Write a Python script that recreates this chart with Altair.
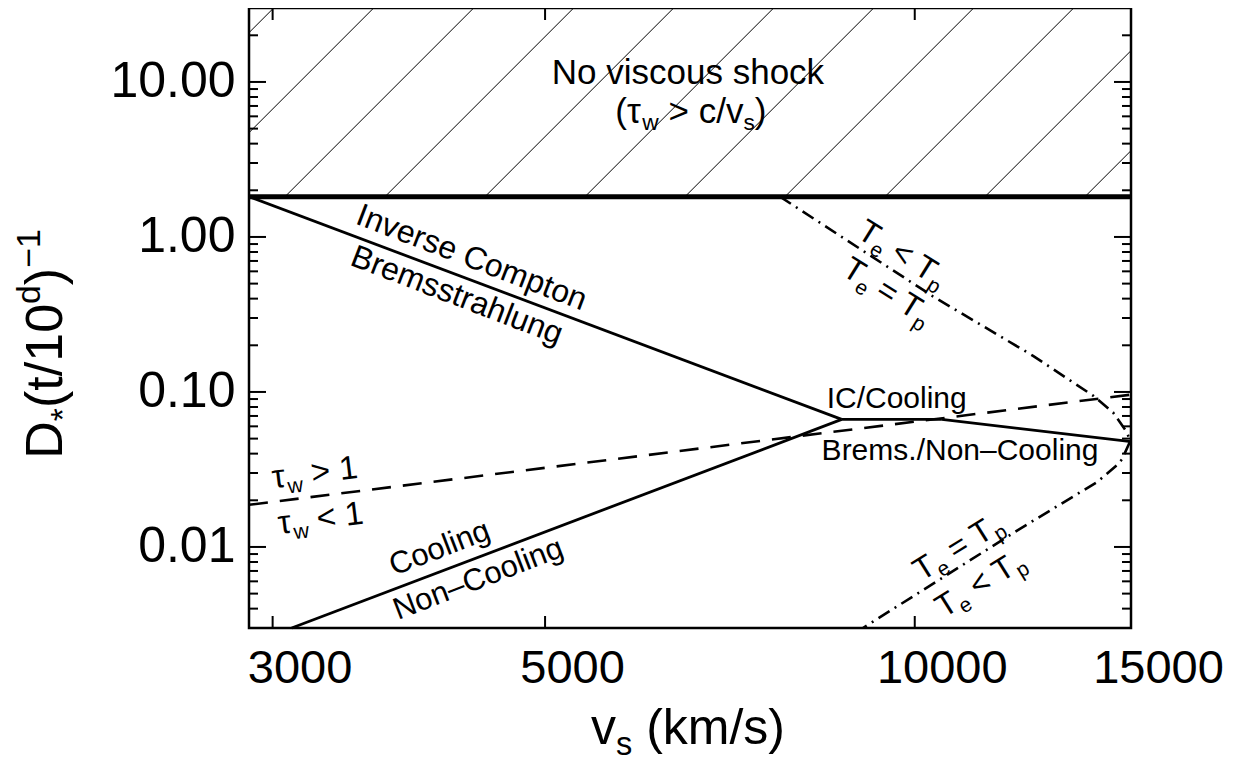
import math
import altair as alt
import pandas as pd

# ---------------- data ----------------
x_tick_values = [3000, 5000, 10000, 15000]
y_tick_values = [0.01, 0.1, 1.0, 10.0]
x_domain = [2870, 15000]
y_domain = [0.003, 30]

viscous_limit = [1.82]          # above this D*: no viscous shock

ic_brems_v = [2870, 8720]
ic_brems_d = [1.82, 0.0665]
ic_cool_v = [8720, 10520]
ic_cool_d = [0.0665, 0.0665]
brems_nc_v = [10520, 15000]
brems_nc_d = [0.0665, 0.0478]
cool_nc_v = [3109, 8720]
cool_nc_d = [0.003, 0.0665]

tau_v = [2870, 15000]
tau_d = [0.0187, 0.0961]

te_tp_v = [7767, 10346, 12484, 13970, 14504, 14890, 14975, 14750, 14610, 14075, 12180, 9075]
te_tp_d = [1.82, 0.414, 0.171, 0.0947, 0.0737, 0.0548, 0.048, 0.0368, 0.0337, 0.0262, 0.0131, 0.003]

# ---------------- layout constants ----------------
W, H = 882, 620
FONT = "Liberation Sans"
lx0, lx1 = math.log10(x_domain[0]), math.log10(x_domain[1])
ly0, ly1 = math.log10(y_domain[0]), math.log10(y_domain[1])


def to_px(v, d):
    return ((math.log10(v) - lx0) / (lx1 - lx0) * W,
            (ly1 - math.log10(d)) / (ly1 - ly0) * H)


def to_data(px, py):
    return (10 ** (lx0 + px / W * (lx1 - lx0)),
            10 ** (ly1 - py / H * (ly1 - ly0)))


CW = {' ': 0.278, '(': 0.333, ')': 0.333, 'τ': 0.44, 'w': 0.722, '>': 0.584, '<': 0.584,
      '=': 0.584, 'c': 0.5, '/': 0.278, 'v': 0.5, 's': 0.5, '1': 0.556, '0': 0.556,
      'T': 0.611, 'e': 0.556, 'p': 0.556, 'D': 0.722, '*': 0.389, 't': 0.278,
      'd': 0.556, '−': 0.584, 'k': 0.5, 'm': 0.833}


def text_w(t):
    return sum(CW.get(ch, 0.556) for ch in t)


text_rows = []


def add_rich_px(parts, ax, ay, angle, fs):
    a = math.radians(angle)
    sizes = [fs if k == 'n' else fs * 0.65 for t, k in parts]
    widths = [text_w(t) * s for (t, k), s in zip(parts, sizes)]
    cur = -sum(widths) / 2
    for (t, k), s, w in zip(parts, sizes, widths):
        lead = len(t) - len(t.lstrip(' '))
        ox = cur + lead * CW[' '] * s
        oy = 0.33 * fs + (0.22 * fs if k == 'sub' else (-0.42 * fs if k == 'sup' else 0))
        dx = ox * math.cos(a) - oy * math.sin(a)
        dy = ox * math.sin(a) + oy * math.cos(a)
        v, d = to_data(ax + dx, ay + dy)
        text_rows.append(dict(v=v, d=d, text=t.strip(' '), angle=angle % 360, size=s))
        cur += w


def add_rich(parts, v, d, angle, fs):
    ax, ay = to_px(v, d)
    add_rich_px(parts, ax, ay, angle, fs)


N = lambda t: (t, 'n')
SUB = lambda t: (t, 'sub')
SUP = lambda t: (t, 'sup')

add_rich([N("No viscous shock")], 6572, 11.47, 0, 35)
add_rich([N("(τ"), SUB("w"), N(" > c/v"), SUB("s"), N(")")], 6572, 6.5, 0, 35)
add_rich([N("Inverse Compton")], 4400, 0.72, 21, 32)
add_rich([N("Bremsstrahlung")], 4320, 0.40, 21, 32)
add_rich([N("IC/Cooling")], 9835, 0.0919, 0, 30)
add_rich([N("Brems./Non–Cooling")], 11110, 0.0424, 0, 30)
add_rich([N("Cooling")], 4158, 0.01034, -21, 31)
add_rich([N("Non–Cooling")], 4449, 0.00645, -21, 31)
add_rich([N("τ"), SUB("w"), N(" > 1")], 3246, 0.0304, -7, 33)
add_rich([N("τ"), SUB("w"), N(" < 1")], 3282, 0.0154, -7, 33)
add_rich([N("T"), SUB("e"), N(" < T"), SUB("p")], 9779, 0.781, 32, 32)
add_rich([N("T"), SUB("e"), N(" = T"), SUB("p")], 9508, 0.446, 32, 32)
add_rich([N("T"), SUB("e"), N(" = T"), SUB("p")], 10842, 0.01004, -32, 32)
add_rich([N("T"), SUB("e"), N(" < T"), SUB("p")], 11300, 0.00582, -32, 32)
# axis titles (outside the plot area)
add_rich_px([N("v"), SUB("s"), N(" (km/s)")], 439, 719, 0, 50)
add_rich_px([N("D"), SUB("*"), N("(t/10"), SUP("d"), N(")"), SUP("−1")], -204, 336, 270, 52)

text_df = pd.DataFrame(text_rows)

# hatching of the "no viscous shock" region (45 degree lines, 100 px apart)
hatch_rows = []
bx0, by = to_px(x_domain[0], viscous_limit[0])
rise = by  # px from limit line to top
for k in range(-3, 10):
    bx = 36 + 100 * k
    v1, _ = to_data(bx, by)
    v2, _ = to_data(bx + rise, 0)
    hatch_rows.append(dict(v=v1, d=viscous_limit[0], v2=v2, d2=y_domain[1]))
hatch_df = pd.DataFrame(hatch_rows)


def seg_df(pairs):
    rows = []
    for s, (vs, ds) in enumerate(pairs):
        for i, (v, d) in enumerate(zip(vs, ds)):
            rows.append(dict(v=v, d=d, seg=s, i=i))
    return pd.DataFrame(rows)


solid_df = seg_df([(ic_brems_v, ic_brems_d), (ic_cool_v, ic_cool_d),
                   (brems_nc_v, brems_nc_d), (cool_nc_v, cool_nc_d)])
tau_df = seg_df([(tau_v, tau_d)])
te_df = seg_df([(te_tp_v, te_tp_d)])

major_y = y_tick_values
minor_y = [m * 10 ** e for e in range(-3, 2) for m in range(2, 10)
           if y_domain[0] <= m * 10 ** e <= y_domain[1]]
ymaj_df = pd.DataFrame({'d': major_y})
ymin_df = pd.DataFrame({'d': minor_y})
xt_df = pd.DataFrame({'v': x_tick_values})

# ---------------- scales / axes ----------------
xscale = alt.Scale(type='log', domain=x_domain, nice=False)
yscale = alt.Scale(type='log', domain=y_domain, nice=False)
xaxis = alt.Axis(values=x_tick_values, format='d', title=None, domain=False, ticks=False,
                 tickSize=0, grid=False, labelFontSize=47, labelPadding=17, labelOffset=27,
                 labelFont=FONT, labelColor='black', labelFlush=False, labelOverlap=False)
yaxis = alt.Axis(values=y_tick_values, format='.2f', title=None, domain=False, ticks=False,
                 tickSize=0, grid=False, labelFontSize=50, labelPadding=14,
                 labelFont=FONT, labelColor='black', labelFlush=False, labelOverlap=False)


def X(f):
    return alt.X(f, type='quantitative', scale=xscale, axis=xaxis)


def Y(f):
    return alt.Y(f, type='quantitative', scale=yscale, axis=yaxis)


hatch = alt.Chart(hatch_df).mark_rule(clip=True, color='black', strokeWidth=1).encode(
    x=X('v'), x2='v2', y=Y('d'), y2='d2')
thick = alt.Chart(pd.DataFrame({'d': viscous_limit})).mark_rule(
    color='black', strokeWidth=5).encode(y=Y('d'))
solid = alt.Chart(solid_df).mark_line(color='black', strokeWidth=2.8).encode(
    x=X('v'), y=Y('d'), detail='seg:N', order='i:Q')
dashed = alt.Chart(tau_df).mark_line(color='black', strokeWidth=2.6, strokeDash=[19, 12]).encode(
    x=X('v'), y=Y('d'), order='i:Q')
dashdot = alt.Chart(te_df).mark_line(color='black', strokeWidth=2.6,
                                     strokeDash=[13, 6, 2, 6]).encode(
    x=X('v'), y=Y('d'), order='i:Q')
texts = alt.Chart(text_df).mark_text(align='left', baseline='alphabetic', font=FONT,
                                     color='black').encode(
    x=X('v'), y=Y('d'), text='text:N',
    angle=alt.Angle('angle:Q', scale=None), size=alt.Size('size:Q', scale=None))

tick_style = dict(color='black', strokeWidth=2)
lmaj = alt.Chart(ymaj_df).mark_rule(**tick_style).encode(
    y=Y('d'), x=alt.value(0), x2=alt.value(17))
lmin = alt.Chart(ymin_df).mark_rule(**tick_style).encode(
    y=Y('d'), x=alt.value(0), x2=alt.value(9))
rmaj = alt.Chart(ymaj_df).mark_rule(**tick_style).encode(
    y=Y('d'), x=alt.value(W), x2=alt.value(W - 17))
rmin = alt.Chart(ymin_df).mark_rule(**tick_style).encode(
    y=Y('d'), x=alt.value(W), x2=alt.value(W - 9))
bt = alt.Chart(xt_df).mark_rule(**tick_style).encode(
    x=X('v'), y=alt.value(H), y2=alt.value(H - 12))
tt = alt.Chart(xt_df).mark_rule(**tick_style).encode(
    x=X('v'), y=alt.value(0), y2=alt.value(12))

chart = alt.layer(hatch, thick, solid, dashed, dashdot, texts, lmaj, lmin, rmaj, rmin, bt, tt).properties(
    width=W, height=H,
    autosize=alt.AutoSizeParams(type='none'),
    padding={'left': 241, 'top': 0, 'right': 100, 'bottom': 132},
    background='white',
).configure(
    font=FONT,
    view=alt.ViewConfig(stroke='black', strokeWidth=2.5),
)

chart.save("out.html", embed_options={"renderer": "svg", "actions": False})
